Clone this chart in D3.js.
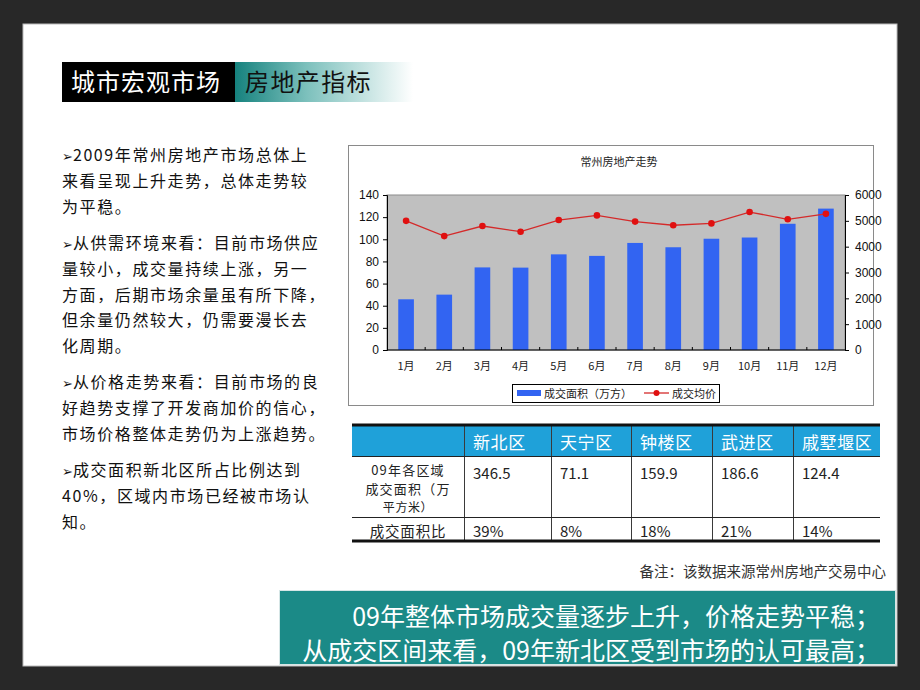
<!DOCTYPE html>
<html>
<head>
<meta charset="utf-8">
<script src="https://cdn.jsdelivr.net/npm/d3@7"></script>
<style>
  body { margin: 0; background: #282828; }
  text { font-family: "Noto Sans CJK SC", "Liberation Sans", sans-serif; }
</style>
</head>
<body>
<svg id="slide" width="920" height="690"></svg>
<script>
// chart data
var months = ["1月", "2月", "3月", "4月", "5月", "6月", "7月", "8月", "9月", "10月", "11月", "12月"];
var dealArea = [45.8, 50, 74.6, 74.4, 86.4, 85, 96.7, 92.8, 100.5, 101.6, 114, 127.7];
var dealPrice = [5000, 4410, 4800, 4580, 5030, 5210, 4970, 4830, 4900, 5340, 5060, 5270];
var areaTicks = [0, 20, 40, 60, 80, 100, 120, 140];
var priceTicks = [0, 1000, 2000, 3000, 4000, 5000, 6000];

// table data
var districts = ["新北区", "天宁区", "钟楼区", "武进区", "戚墅堰区"];
var districtArea = ["346.5", "71.1", "159.9", "186.6", "124.4"];
var districtShare = ["39%", "8%", "18%", "21%", "14%"];

// texts
var bullets = [
  ["2009年常州房地产市场总体上", "来看呈现上升走势，总体走势较", "为平稳。"],
  ["从供需环境来看：目前市场供应", "量较小，成交量持续上涨，另一", "方面，后期市场余量虽有所下降，", "但余量仍然较大，仍需要漫长去", "化周期。"],
  ["从价格走势来看：目前市场的良", "好趋势支撑了开发商加价的信心，", "市场价格整体走势仍为上涨趋势。"],
  ["成交面积新北区所占比例达到", "40%，区域内市场已经被市场认", "知。"]
];
var summary = ["09年整体市场成交量逐步上升，价格走势平稳；", "从成交区间来看，09年新北区受到市场的认可最高；"];

var svg = d3.select("#slide");

// white slide
svg.append("rect").attr("x", 23).attr("y", 24).attr("width", 874).attr("height", 642)
    .attr("fill", "#fff").attr("stroke", "#bbb");

// title bar
var defs = svg.append("defs");
var grad = defs.append("linearGradient").attr("id", "titleGrad");
grad.append("stop").attr("offset", "0").attr("stop-color", "#16827e");
grad.append("stop").attr("offset", "0.4").attr("stop-color", "#7cc0bc");
grad.append("stop").attr("offset", "1").attr("stop-color", "#ffffff");

svg.append("rect").attr("x", 235).attr("y", 62).attr("width", 178).attr("height", 40).attr("fill", "url(#titleGrad)");
svg.append("rect").attr("x", 62).attr("y", 62).attr("width", 173).attr("height", 40).attr("fill", "#000");
svg.append("text").attr("x", 71).attr("y", 91).attr("fill", "#fff")
    .style("font-size", "24px").style("letter-spacing", "1px").text("城市宏观市场");
svg.append("text").attr("x", 245).attr("y", 91).attr("fill", "#111")
    .style("font-size", "24px").style("letter-spacing", "1.4px").text("房地产指标");

// left bullet text
var ty = 155;
bullets.forEach(function (para) {
  para.forEach(function (line, i) {
    var t = svg.append("text").attr("x", 62).attr("y", ty + 6)
        .attr("fill", "#111")
        .style("font-size", "16px").style("letter-spacing", "1.6px");
    if (i === 0) {
      t.append("tspan").style("font-family", "'DejaVu Sans', sans-serif")
          .style("font-size", "13px").style("letter-spacing", "0px").text("➢");
    }
    t.append("tspan").text(line);
    ty += 25.8;
  });
  ty += 10.5;
});

// chart frame
svg.append("rect").attr("x", 348.5).attr("y", 145.5).attr("width", 525).attr("height", 260)
    .attr("fill", "#fff").attr("stroke", "#8a8a8a");
svg.append("text").attr("x", 619).attr("y", 166).attr("text-anchor", "middle")
    .attr("fill", "#222").style("font-size", "11px").text("常州房地产走势");

var plot = { left: 387, right: 845, top: 195, bottom: 350 };

var x = d3.scaleBand().domain(months).range([plot.left, plot.right]);
var yArea = d3.scaleLinear().domain([0, 140]).range([plot.bottom, plot.top]);
var yPrice = d3.scaleLinear().domain([0, 6000]).range([plot.bottom, plot.top]);

svg.append("rect").attr("x", plot.left).attr("y", plot.top)
    .attr("width", plot.right - plot.left).attr("height", plot.bottom - plot.top)
    .attr("fill", "#c0c0c0").attr("stroke", "#8c8c8c");

var barW = x.bandwidth() * 0.41;
svg.append("g").selectAll("rect")
    .data(dealArea)
    .enter()
    .append("rect")
    .attr("x", function (d, i) { return x(months[i]) + x.bandwidth() / 2 - barW / 2; })
    .attr("y", function (d) { return yArea(d); })
    .attr("width", barW)
    .attr("height", function (d) { return plot.bottom - yArea(d); })
    .attr("fill", "#3264f2");

var line = d3.line()
    .x(function (d, i) { return x(months[i]) + x.bandwidth() / 2; })
    .y(function (d) { return yPrice(d); });

svg.append("path").datum(dealPrice).attr("d", line)
    .attr("fill", "none").attr("stroke", "#d42a2a").attr("stroke-width", 1.3);
svg.append("g").selectAll("circle")
    .data(dealPrice)
    .enter()
    .append("circle")
    .attr("cx", function (d, i) { return x(months[i]) + x.bandwidth() / 2; })
    .attr("cy", function (d) { return yPrice(d); })
    .attr("r", 3.3)
    .attr("fill", "#e01010");

// axes
var leftAxis = svg.append("g").attr("transform", "translate(" + plot.left + ",0)")
    .call(d3.axisLeft(yArea).tickValues(areaTicks).tickSize(4).tickPadding(4));
var rightAxis = svg.append("g").attr("transform", "translate(" + plot.right + ",0)")
    .call(d3.axisRight(yPrice).tickValues(priceTicks).tickFormat(d3.format("d")).tickSize(4).tickPadding(6));
[leftAxis, rightAxis].forEach(function (a) {
  a.select(".domain").attr("stroke", "#000");
  a.selectAll("line").attr("stroke", "#000");
  a.selectAll("text").attr("fill", "#111")
      .style("font-family", "'Liberation Sans', Arial, sans-serif").style("font-size", "12px");
});

var bottomAxis = svg.append("g").attr("transform", "translate(0," + plot.bottom + ")");
bottomAxis.append("line").attr("x1", plot.left).attr("x2", plot.right)
    .attr("stroke", "#000");
bottomAxis.selectAll("line.tk")
    .data(months.slice(1))
    .enter()
    .append("line")
    .attr("class", "tk")
    .attr("x1", function (d) { return x(d); })
    .attr("x2", function (d) { return x(d); })
    .attr("y1", 0).attr("y2", -3)
    .attr("stroke", "#000");
bottomAxis.selectAll("text")
    .data(months)
    .enter()
    .append("text")
    .attr("x", function (d) { return x(d) + x.bandwidth() / 2; })
    .attr("y", 20)
    .attr("text-anchor", "middle")
    .attr("fill", "#222")
    .style("font-size", "11px")
    .text(function (d) { return d; });

// legend
var legend = svg.append("g");
legend.append("rect").attr("x", 512.5).attr("y", 384.5).attr("width", 207).attr("height", 18)
    .attr("fill", "#fff").attr("stroke", "#000");
legend.append("rect").attr("x", 517).attr("y", 390).attr("width", 24).attr("height", 6).attr("fill", "#3264f2");
legend.append("text").attr("x", 544).attr("y", 397.5).attr("fill", "#222")
    .style("font-size", "11px").text("成交面积（万方）");
legend.append("line").attr("x1", 644).attr("x2", 669).attr("y1", 393).attr("y2", 393)
    .attr("stroke", "#d42a2a").attr("stroke-width", 1.3);
legend.append("circle").attr("cx", 656.5).attr("cy", 393).attr("r", 3).attr("fill", "#e01010");
legend.append("text").attr("x", 672).attr("y", 397.5).attr("fill", "#222")
    .style("font-size", "11px").text("成交均价");

// table
var colEdges = [352, 464, 551, 631, 712, 793, 880];
var rowTop = 425, headBottom = 456, row2Bottom = 517, tableBottom = 541;
var table = svg.append("g");

table.append("rect").attr("x", colEdges[0]).attr("y", rowTop + 1)
    .attr("width", colEdges[6] - colEdges[0]).attr("height", headBottom - rowTop - 1)
    .attr("fill", "#1fa1d9");

table.selectAll("line.vl")
    .data(colEdges.slice(1, 6))
    .enter()
    .append("line")
    .attr("class", "vl")
    .attr("x1", function (d) { return d + 0.5; })
    .attr("x2", function (d) { return d + 0.5; })
    .attr("y1", rowTop).attr("y2", tableBottom)
    .attr("stroke", "#3a3a3a");

[headBottom, row2Bottom].forEach(function (yy) {
  table.append("line").attr("x1", colEdges[0]).attr("x2", colEdges[6])
      .attr("y1", yy + 0.5).attr("y2", yy + 0.5).attr("stroke", "#222");
});
[rowTop, tableBottom].forEach(function (yy) {
  table.append("line").attr("x1", colEdges[0]).attr("x2", colEdges[6])
      .attr("y1", yy).attr("y2", yy).attr("stroke", "#111").attr("stroke-width", 3);
});

table.selectAll("text.hd")
    .data(districts)
    .enter()
    .append("text")
    .attr("class", "hd")
    .attr("x", function (d, i) { return colEdges[i + 1] + 9; })
    .attr("y", 449)
    .attr("fill", "#fff")
    .style("font-size", "17px").style("letter-spacing", "0.6px")
    .text(function (d) { return d; });

var labelX = (colEdges[0] + colEdges[1]) / 2;
[["09年各区域", 475, 13, 1.2], ["成交面积（万", 494, 13, 1.2], ["平方米）", 512, 12, 0.6], ["成交面积比", 537, 14.5, 0.8]]
  .forEach(function (r) {
    table.append("text").attr("x", labelX).attr("y", r[1]).attr("text-anchor", "middle")
        .attr("fill", "#222").style("font-size", r[2] + "px").style("letter-spacing", r[3] + "px").text(r[0]);
  });

table.selectAll("text.v1")
    .data(districtArea)
    .enter()
    .append("text")
    .attr("class", "v1")
    .attr("x", function (d, i) { return colEdges[i + 1] + 9; })
    .attr("y", 479)
    .attr("fill", "#222")
    .style("font-size", "15px")
    .text(function (d) { return d; });

table.selectAll("text.v2")
    .data(districtShare)
    .enter()
    .append("text")
    .attr("class", "v2")
    .attr("x", function (d, i) { return colEdges[i + 1] + 9; })
    .attr("y", 537)
    .attr("fill", "#222")
    .style("font-size", "15px")
    .text(function (d) { return d; });

// source note
svg.append("text").attr("x", 886).attr("y", 577).attr("text-anchor", "end")
    .attr("fill", "#333").style("font-size", "14.5px").text("备注：该数据来源常州房地产交易中心");

// summary box
svg.append("rect").attr("x", 279.5).attr("y", 590.5).attr("width", 616).attr("height", 74)
    .attr("fill", "#1b8a87").attr("stroke", "#d6e6e6");
summary.forEach(function (s, i) {
  svg.append("text").attr("x", 880).attr("y", 626 + i * 34).attr("text-anchor", "end")
      .attr("fill", "#fff").style("font-size", "25px").text(s);
});
</script>
</body>
</html>
